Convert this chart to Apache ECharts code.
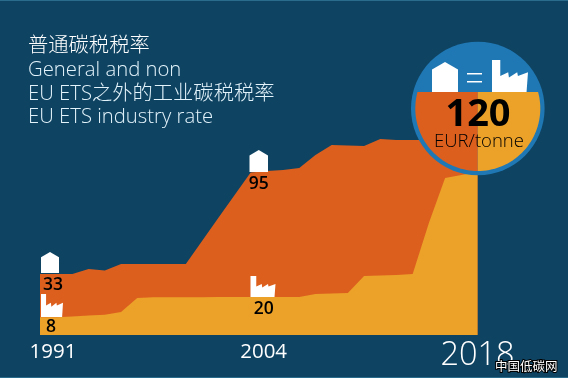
<!DOCTYPE html>
<html>
<head>
<meta charset="utf-8">
<style>
  html, body { margin: 0; padding: 0; background: #0e4362; }
  #chart { width: 568px; height: 378px; }
</style>
</head>
<body>
<div id="chart"></div>
<script src="https://cdn.jsdelivr.net/npm/echarts@6/dist/echarts.min.js"></script>
<script>
const years = ["1991","1992","1993","1994","1995","1996","1997","1998","1999","2000","2001","2002","2003","2004",
  "2005","2006","2007","2008","2009","2010","2011","2012","2013","2014","2015","2016","2017","2018"];
// on the picture's own height scale (the top is 120)
const generalRate = [37.5,37.5,37.5,40.6,39.7,43.7,43.7,43.7,43.7,43.7,57.8,72,86,100,
  101,101.5,102.8,110.8,117,116.6,116.3,120.6,120,120,120,120,120,120];
const industryRate = [11,11,11.4,12,12.4,14.2,22.8,23.2,23.2,23.2,23.2,23.4,23.4,23.4,
  23.4,23.4,23.4,25.2,25.5,25.8,36.3,36.6,36.9,37.5,69,96.6,98.5,100.3];
const tickYears = ["1991","2004","2018"];
const calloutYears = ["1991","2004"];
const generalLabels = ["33","95"];
const industryLabels = ["8","20"];
const legendLines = ["普通碳税税率","General and non","EU ETS之外的工业碳税税率","EU ETS industry rate"];

const ORANGE = "#dc5f1e";
const YELLOW = "#eca229";
const RING = "#1f78b4";
const EDGE = "#2a6c8c";
const LATIN = '"Open Sans", "Noto Sans CJK SC", sans-serif';

function house(x, y, w, h) {
  return { type: "polygon", z: 50, style: { fill: "#fff" },
    shape: { points: [[x, y + h * 0.25], [x + w * 0.5, y], [x + w, y + h * 0.25], [x + w, y + h], [x, y + h]] } };
}
function factory(x, y, w, h) {
  const f = [[0,0],[0.23,0],[0.23,0.5],[0.45,0.38],[0.47,0.55],[0.7,0.38],[0.72,0.5],[1,0.38],[0.96,1],[0,1]];
  return { type: "polygon", z: 50, style: { fill: "#fff" },
    shape: { points: f.map((p) => [x + p[0] * w, y + p[1] * h]) } };
}
// half of the badge's lower part, side is -1 (left) or 1 (right)
function badgeHalf(side, color) {
  const cx = 477.8, cy = 108.5, r = 62.5, cutY = 92;
  const pts = [[cx, cutY]];
  const start = Math.asin((cutY - cy) / r);
  for (let i = 0; i <= 40; i++) {
    const a = start + (Math.PI / 2 - start) * (i / 40);
    pts.push([cx + side * r * Math.cos(a), cy + r * Math.sin(a)]);
  }
  return { type: "polygon", z: 41, shape: { points: pts }, style: { fill: color } };
}
function calloutPoints(labels, series, offsets) {
  return calloutYears.map((year, i) => ({
    coord: [year, series[years.indexOf(year)]],
    symbol: "circle",
    symbolSize: 0,
    label: {
      show: true,
      formatter: labels[i],
      color: "#000",
      fontFamily: LATIN,
      fontWeight: 600,
      fontSize: 17.5,
      offset: offsets[i],
    },
  }));
}

let chart = echarts.init(document.getElementById("chart"), null, { renderer: "canvas" });
chart.setOption({
  backgroundColor: "#0e4362",
  animation: false,
  grid: { left: 40, right: 90.5, bottom: 43, height: 260 },
  xAxis: {
    type: "category",
    data: years,
    boundaryGap: false,
    axisLine: { show: false },
    axisTick: { show: false },
    axisLabel: {
      interval: (index, value) => tickYears.indexOf(value) >= 0,
      margin: 4,
      formatter: (value) => (value === "2018" ? `{big|${value}}` : `{small|${value}}`),
      rich: {
        small: { fontFamily: LATIN, fontWeight: 400, fontSize: 20.5, color: "#fff", padding: [3, 0, 0, 26] },
        big: { fontFamily: LATIN, fontWeight: 300, fontSize: 32.5, color: "#fff" },
      },
    },
  },
  yAxis: { type: "value", min: 0, max: 160, show: false },
  series: [
    {
      name: "General and non EU ETS",
      type: "line",
      data: generalRate,
      showSymbol: false,
      lineStyle: { width: 0 },
      itemStyle: { color: ORANGE },
      areaStyle: { color: ORANGE, opacity: 1 },
      markPoint: { data: calloutPoints(generalLabels, generalRate, [[13, 11], [8, 12]]) },
    },
    {
      name: "EU ETS industry",
      type: "line",
      data: industryRate,
      showSymbol: false,
      lineStyle: { width: 0 },
      itemStyle: { color: YELLOW },
      areaStyle: { color: YELLOW, opacity: 1 },
      markPoint: { data: calloutPoints(industryLabels, industryRate, [[11, 10], [13, 12]]) },
    },
  ],
  graphic: [
    { type: "rect", z: 1, shape: { x: 0, y: 0, width: 568, height: 1 }, style: { fill: EDGE } },
    { type: "rect", z: 1, shape: { x: 0, y: 377, width: 568, height: 1 }, style: { fill: EDGE } },
    // legend text
    ...legendLines.map((line, i) => ({
      type: "text", x: 28, y: 46.5 + i * 23.7, z: 50,
      style: { text: line, verticalAlign: "middle", fontFamily: LATIN, fontWeight: 300, fontSize: 20.3, fill: i === 0 ? "#fff" : "#e3f3fb" },
    })),
    // markers on the chart
    house(41, 252, 18, 21),
    factory(41, 294, 22, 23),
    house(249.5, 150, 18.5, 22),
    factory(250.5, 276, 25, 21),
    // 120 badge
    { type: "circle", z: 40, shape: { cx: 477.8, cy: 108.5, r: 66.8 }, style: { fill: RING } },
    badgeHalf(-1, ORANGE),
    badgeHalf(1, YELLOW),
    house(432, 62, 26, 30),
    factory(492, 60, 36, 32),
    { type: "rect", z: 50, shape: { x: 467, y: 73, width: 15, height: 1.5 }, style: { fill: "#fff" } },
    { type: "rect", z: 50, shape: { x: 467, y: 81, width: 15, height: 1.5 }, style: { fill: "#fff" } },
    { type: "text", z: 50, x: 478, y: 115.5, style: { text: "120", align: "center", verticalAlign: "middle", fontFamily: LATIN, fontWeight: 700, fontSize: 38, fill: "#000" } },
    { type: "text", z: 50, x: 479, y: 141.5, style: { text: "EUR/tonne", align: "center", verticalAlign: "middle", fontFamily: LATIN, fontWeight: 300, fontSize: 18.5, fill: "#000" } },
    // watermark
    { type: "text", z: 60, x: 495, y: 366, style: { text: "中国低碳网", verticalAlign: "middle", fontFamily: '"Noto Sans CJK SC"', fontSize: 12.5, fill: "#fff", stroke: "#000", lineWidth: 2 } },
  ],
});
</script>
</body>
</html>
